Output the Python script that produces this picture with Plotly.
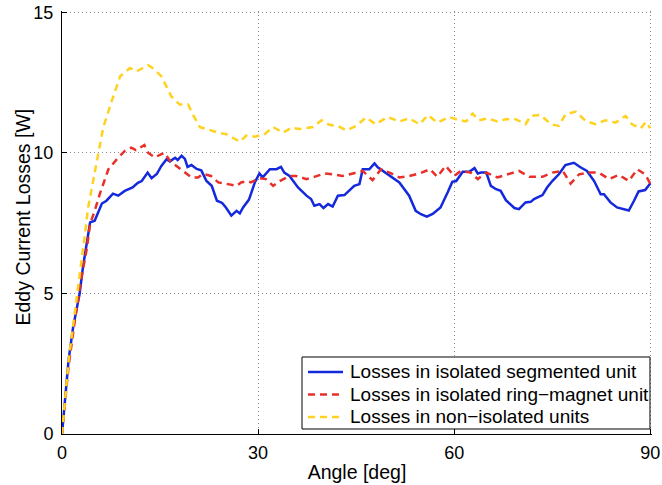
import plotly.graph_objects as go

# Losses in isolated segmented unit
seg_angle = [0, 1.0, 1.7, 2.7, 3.2, 3.8, 4.3, 5.0, 6.1, 6.8, 7.8, 8.6, 9.6, 10.8, 11.6, 12.2, 13.1, 13.7, 14.5,
             15.2, 16.0, 16.5, 17.3, 17.7, 18.3, 18.8, 19.2, 19.8, 20.6, 21.3, 22.1, 22.9, 23.7, 24.5, 25.1, 25.9,
             26.7, 27.2, 27.7, 28.6, 29.5, 30.2, 30.7, 31.8, 32.8, 33.5, 34.0, 34.8, 36.1, 37.4, 38.1, 38.6, 39.4,
             40.0, 40.7, 41.4, 42.2, 43.2, 44.7, 45.5, 46.0, 47.0, 47.8, 48.3, 49.1, 50.3, 51.6, 53.1, 54.1, 54.9,
             55.8, 56.7, 57.9, 59.0, 59.7, 60.3, 61.3, 62.3, 63.1, 63.6, 64.1, 64.9, 65.6, 66.4, 67.1, 67.9, 69.2,
             69.9, 70.9, 71.7, 72.2, 73.5, 74.2, 75.0, 76.0, 77.0, 78.3, 79.3, 80.3, 81.4, 82.4, 82.9, 83.9, 84.9,
             86.2, 86.7, 87.5, 88.2, 89.2, 90.0]
seg_loss = [0, 2.62, 3.8, 5.0, 5.93, 6.76, 7.53, 7.59, 8.2, 8.3, 8.55, 8.48, 8.65, 8.77, 8.94, 9.0, 9.3, 9.1, 9.25,
            9.54, 9.78, 9.7, 9.83, 9.75, 9.9, 9.79, 9.5, 9.57, 9.43, 9.38, 9.0, 8.83, 8.3, 8.22, 8.05, 7.77,
            7.94, 7.85, 8.06, 8.34, 8.95, 9.27, 9.13, 9.42, 9.42, 9.5, 9.3, 9.18, 8.77, 8.48, 8.36, 8.12, 8.18,
            8.04, 8.18, 8.09, 8.48, 8.5, 8.83, 8.89, 9.42, 9.42, 9.63, 9.49, 9.36, 9.18, 8.95, 8.48, 7.94, 7.82,
            7.73, 7.83, 8.06, 8.6, 8.97, 9.0, 9.33, 9.33, 9.46, 9.27, 9.3, 9.3, 8.83, 8.71, 8.65, 8.32, 8.04,
            8.0, 8.24, 8.26, 8.36, 8.5, 8.77, 9.0, 9.24, 9.57, 9.65, 9.49, 9.36, 9.0, 8.53, 8.53, 8.24, 8.06,
            7.97, 7.95, 8.3, 8.63, 8.68, 8.92]

# Losses in isolated ring-magnet unit
ring_angle = [0, 1.0, 2.0, 3.0, 3.8, 4.3, 5.0, 5.8, 7.1, 8.4, 9.6, 10.6, 11.3, 12.6, 13.2, 14.2, 15.2, 15.7, 16.5,
              17.8, 18.5, 19.8, 20.8, 21.6, 22.8, 23.9, 25.4, 26.7, 27.4, 28.4, 28.9, 30.2, 31.2, 32.3, 33.3,
              34.8, 35.8, 37.4, 38.6, 40.2, 41.4, 42.9, 44.5, 46.0, 47.5, 48.8, 50.1, 51.6, 53.1, 54.7, 56.3,
              57.4, 58.7, 60.0, 61.0, 62.5, 63.6, 64.9, 66.6, 68.4, 69.9, 71.5, 73.5, 75.0, 76.6, 77.8, 79.1,
              80.6, 82.1, 83.7, 85.2, 86.7, 88.0, 89.2, 90.0]
ring_loss = [0, 2.4, 4.1, 5.6, 6.6, 7.48, 7.94, 8.55, 9.42, 9.78, 10.07, 10.19, 10.1, 10.28, 10.0, 9.84, 9.96, 10.0,
             9.72, 9.49, 9.37, 9.13, 9.13, 9.25, 9.18, 8.95, 8.89, 8.83, 8.95, 9.0, 8.95, 9.1, 9.07, 8.83, 9.0,
             9.18, 9.18, 9.07, 9.15, 9.27, 9.24, 9.18, 9.27, 9.36, 9.03, 9.42, 9.3, 9.13, 9.18, 9.27, 9.42,
             9.15, 9.54, 9.18, 9.36, 9.3, 9.07, 9.3, 9.13, 9.27, 9.36, 9.15, 9.15, 9.3, 9.36, 8.91, 9.24,
             9.3, 9.3, 9.07, 9.22, 9.0, 9.42, 9.24, 8.9]

# Losses in non-isolated units
non_angle = [0, 1.0, 2.0, 3.0, 3.5, 4.0, 5.5, 6.3, 7.6, 8.9, 10.4, 11.4, 13.2, 14.0, 15.2, 16.7, 18.0, 19.3, 20.0,
             21.1, 22.3, 23.9, 25.1, 26.4, 27.2, 28.2, 29.5, 31.0, 32.3, 33.8, 35.1, 36.3, 38.4, 39.7, 40.9,
             42.2, 43.5, 45.0, 46.5, 48.0, 49.8, 51.6, 53.1, 54.7, 56.0, 57.4, 59.2, 60.3, 61.8, 62.8, 63.8,
             65.1, 66.6, 67.9, 69.4, 70.9, 71.7, 73.2, 74.8, 76.0, 77.0, 78.6, 80.1, 81.6, 83.1, 84.7, 86.2,
             87.2, 88.5, 89.3, 90.0]
non_loss = [0, 2.6, 4.4, 6.1, 7.1, 8.06, 9.84, 10.9, 11.84, 12.73, 13.02, 12.9, 13.12, 13.0, 12.73, 12.02, 11.72,
            11.72, 11.37, 10.92, 10.84, 10.72, 10.67, 10.49, 10.4, 10.62, 10.58, 10.67, 10.92, 10.72, 10.9,
            10.85, 10.92, 11.16, 11.0, 10.96, 10.8, 10.96, 11.26, 11.02, 11.28, 11.12, 11.23, 11.02, 11.35,
            11.08, 11.28, 11.2, 11.12, 11.4, 11.16, 11.23, 11.12, 11.2, 11.2, 11.02, 11.32, 11.35, 11.02,
            10.96, 11.37, 11.47, 11.14, 11.02, 11.16, 11.08, 11.32, 11.02, 10.87, 11.1, 10.88]

series_names = ["Losses in isolated segmented unit",
                "Losses in isolated ring\u2212magnet unit",
                "Losses in non\u2212isolated units"]
series_colors = ["#1428dc", "#e8302a", "#ffd21f"]
series_dash = ["solid", "7px,5px", "7px,5px"]

x_ticks = [0, 30, 60, 90]
y_ticks = [0, 5, 10, 15]
x_title = "Angle [deg]"
y_title = "Eddy Current Losses [W]"

FONT = "Liberation Sans, Arial, Helvetica, sans-serif"
TICK_FS = 18
TITLE_FS = 19.5
LEG_FS = 19

fig = go.Figure()
for xs, ys, name, col, dash in zip([seg_angle, ring_angle, non_angle], [seg_loss, ring_loss, non_loss],
                                   series_names, series_colors, series_dash):
    fig.add_trace(go.Scatter(x=xs, y=ys, mode="lines", name=name, showlegend=False,
                             line=dict(color=col, width=2.5, dash=dash)))

axis_common = dict(showline=True, linecolor="black", linewidth=1, mirror=False,
                   ticks="inside", ticklen=5, tickcolor="black",
                   showgrid=True, gridcolor="#8a8a8a", griddash="1px,3px", gridwidth=1,
                   zeroline=False, automargin=False, ticklabeloverflow="allow",
                   tickfont=dict(size=TICK_FS, color="black", family=FONT),
                   title_font=dict(size=TITLE_FS, color="black", family=FONT))

fig.update_xaxes(range=[0, 90.25], tickvals=x_ticks, title_text=x_title, title_standoff=3,
                 ticklabelstandoff=2, **axis_common)
fig.update_yaxes(range=[0, 15.05], tickvals=y_ticks, ticklabelstandoff=4, **axis_common)

# Legend drawn as a boxed key in the lower right corner (paper coordinates)
leg_x0, leg_x1, leg_y0, leg_y1 = 0.4068, 0.9966, 0.0118, 0.182
row_y = [0.1466, 0.0934, 0.0402]
sample_x0, sample_x1, text_x = 0.4169, 0.4763, 0.4847
shapes = [dict(type="rect", xref="paper", yref="paper", x0=leg_x0, x1=leg_x1, y0=leg_y0, y1=leg_y1,
               line=dict(color="black", width=1), fillcolor="white", layer="above")]
annotations = [dict(xref="paper", yref="paper", x=-0.066, y=0.512, xanchor="center", yanchor="middle",
                    text=y_title, textangle=-90, showarrow=False,
                    font=dict(size=TITLE_FS, color="black", family=FONT))]
for ry, name, col, dash in zip(row_y, series_names, series_colors, series_dash):
    shapes.append(dict(type="line", xref="paper", yref="paper", x0=sample_x0, x1=sample_x1, y0=ry, y1=ry,
                       line=dict(color=col, width=2.5, dash=dash), layer="above"))
    annotations.append(dict(xref="paper", yref="paper", x=text_x, y=ry, xanchor="left", yanchor="middle",
                            text=name, showarrow=False,
                            font=dict(size=LEG_FS, color="black", family=FONT)))

fig.update_layout(
    width=662, height=485,
    margin=dict(l=62, r=10, t=11, b=51),
    paper_bgcolor="white", plot_bgcolor="white",
    font=dict(family=FONT, size=TICK_FS, color="black"),
    showlegend=False,
    shapes=shapes,
    annotations=annotations,
)

fig.write_html("out.html")
